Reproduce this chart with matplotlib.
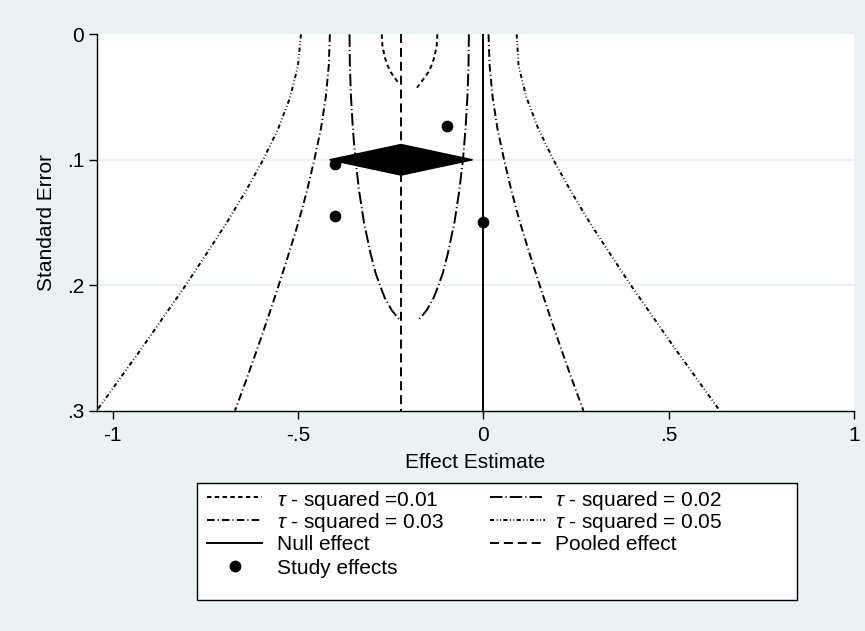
import numpy as np
import matplotlib.pyplot as plt
from matplotlib.lines import Line2D
from matplotlib.patches import Polygon, Rectangle

plt.rcParams['font.family'] = ['Liberation Sans', 'DejaVu Sans']
plt.rcParams['lines.scale_dashes'] = False
plt.rcParams['mathtext.fontset'] = 'custom'
plt.rcParams['mathtext.it'] = 'Liberation Sans:italic'
plt.rcParams['mathtext.rm'] = 'Liberation Sans'

# pooled effect and its confidence interval
pooled = -0.222
ci_low, ci_high = -0.415, -0.029
diamond_se = 0.1

# study effects
study_x = [-0.400, -0.400, -0.099, 0.000]
study_se = [0.1036, 0.1448, 0.0728, 0.1493]

# tau-squared contours (SE, effect)
t01_l_se = [0, 0.010, 0.020, 0.025, 0.030, 0.035, 0.0385]
t01_l_x = [-0.274, -0.272, -0.264, -0.258, -0.250, -0.238, -0.230]
t01_r_se = [0, 0.010, 0.020, 0.025, 0.030, 0.035, 0.039, 0.0425]
t01_r_x = [-0.124, -0.126, -0.134, -0.140, -0.148, -0.160, -0.170, -0.179]

t02_se = [0, 0.025, 0.05, 0.075, 0.10, 0.125, 0.15, 0.175, 0.19, 0.20, 0.21, 0.22, 0.2277]
t02_l_x = [-0.361, -0.360, -0.357, -0.352, -0.345, -0.335, -0.322, -0.304, -0.291,
           -0.279, -0.266, -0.247, -0.225]
t02_r_x = [-0.039, -0.040, -0.043, -0.048, -0.055, -0.065, -0.078, -0.096, -0.109,
           -0.121, -0.134, -0.153, -0.175]

cont_se = [0, 0.025, 0.05, 0.075, 0.10, 0.125, 0.15, 0.175, 0.20, 0.225, 0.25, 0.275, 0.30]
t03_l_x = [-0.414, -0.417, -0.425, -0.438, -0.456, -0.476, -0.499, -0.525, -0.552,
           -0.580, -0.609, -0.639, -0.670]
t03_r_x = [0.014, 0.017, 0.025, 0.038, 0.056, 0.076, 0.099, 0.125, 0.152,
           0.180, 0.209, 0.239, 0.270]
t05_l_x = [-0.492, -0.500, -0.521, -0.553, -0.594, -0.641, -0.692, -0.747, -0.803,
           -0.862, -0.921, -0.982, -1.043]
t05_r_x = [0.090, 0.095, 0.116, 0.148, 0.189, 0.236, 0.287, 0.342, 0.398,
           0.457, 0.516, 0.577, 0.638]

xticks = [-1, -0.5, 0, 0.5, 1]
xticklabels = ['-1', '-.5', '0', '.5', '1']
yticks = [0, 0.1, 0.2, 0.3]
yticklabels = ['0', '.1', '.2', '.3']

legend_labels = [r'$\tau$ - squared =0.01', r'$\tau$ - squared = 0.02',
                 r'$\tau$ - squared = 0.03', r'$\tau$ - squared = 0.05',
                 'Null effect', 'Pooled effect', 'Study effects']

bg = '#eaf2f3'
fs = 15
lw = 1.4

st01 = dict(color='black', lw=lw, dashes=(3.2, 2.4))
st02 = dict(color='black', lw=lw, dashes=(9, 2.2, 0.8, 2.2))
st03 = dict(color='black', lw=lw, dashes=(5.5, 2.2, 0.8, 2.2))
st05 = dict(color='black', lw=lw, dashes=(3, 1.8, 0.6, 1.8, 0.6, 1.8))
st_null = dict(color='black', lw=lw)
st_pool = dict(color='black', lw=lw, dashes=(6.5, 3.5))

fig = plt.figure(figsize=(8.65, 6.31), dpi=100, facecolor=bg)
ax = fig.add_axes([0.1118, 0.3491, 0.8755, 0.5965])
ax.set_facecolor('white')

for v in [0.1, 0.2]:
    ax.axhline(v, color=bg, lw=1.5, zorder=0)

ax.plot(t01_l_x, t01_l_se, **st01)
ax.plot(t01_r_x, t01_r_se, **st01)
ax.plot(t02_l_x, t02_se, **st02)
ax.plot(t02_r_x, t02_se, **st02)
ax.plot(t03_l_x, cont_se, **st03)
ax.plot(t03_r_x, cont_se, **st03)
ax.plot(t05_l_x, cont_se, **st05)
ax.plot(t05_r_x, cont_se, **st05)

ax.plot([0, 0], [0, 0.3], **st_null)
ax.plot([pooled, pooled], [0, 0.3], **st_pool)

ax.scatter(study_x, study_se, s=55, color='black', zorder=4)

dh = 0.0122
ax.add_patch(Polygon([(ci_low, diamond_se), (pooled, diamond_se - dh),
                      (ci_high, diamond_se), (pooled, diamond_se + dh)],
                     closed=True, facecolor='black', edgecolor='black', zorder=5))

ax.set_xlim(-1.043, 1.0)
ax.set_ylim(0.3, 0)
ax.set_xticks(xticks)
ax.set_xticklabels(xticklabels, fontsize=fs)
ax.set_yticks(yticks)
ax.set_yticklabels(yticklabels, fontsize=fs)
ax.tick_params(direction='out', length=6, width=1, color='black')
ax.tick_params(axis='x', pad=5)
ax.tick_params(axis='y', pad=3)
for s in ['top', 'right']:
    ax.spines[s].set_visible(False)
for s in ['left', 'bottom']:
    ax.spines[s].set_linewidth(1)
ax.set_xlabel('Effect Estimate', fontsize=fs, labelpad=6)
ax.set_ylabel('Standard Error', fontsize=fs, labelpad=8)

# legend drawn by hand in pixel positions (two columns, Stata style)
W, H = 865, 631
fx = lambda p: p / W
fy = lambda p: 1 - p / H
fig.patches.append(Rectangle((fx(197), fy(600)), fx(600), 117 / H,
                             transform=fig.transFigure, facecolor='white',
                             edgecolor='black', lw=1, zorder=0))
styles = [st01, st02, st03, st05, st_null, st_pool, None]
rows = [497, 497, 520, 520, 543, 543, 566]
cols = [0, 1, 0, 1, 0, 1, 0]
sample_x = [(207, 262), (490, 545)]
text_x = [277, 555]
for lab, st, r, c in zip(legend_labels, styles, rows, cols):
    x0, x1 = sample_x[c]
    if st is None:
        fig.add_artist(Line2D([fx((x0 + x1) / 2)], [fy(r)], ls='none', marker='o',
                              color='black', markersize=7.5,
                              transform=fig.transFigure))
    else:
        fig.add_artist(Line2D([fx(x0), fx(x1)], [fy(r), fy(r)],
                              transform=fig.transFigure, **st))
    fig.text(fx(text_x[c]), fy(r), lab, fontsize=fs, va='center_baseline', ha='left')

fig.savefig('out.png', dpi=100, facecolor=bg)
